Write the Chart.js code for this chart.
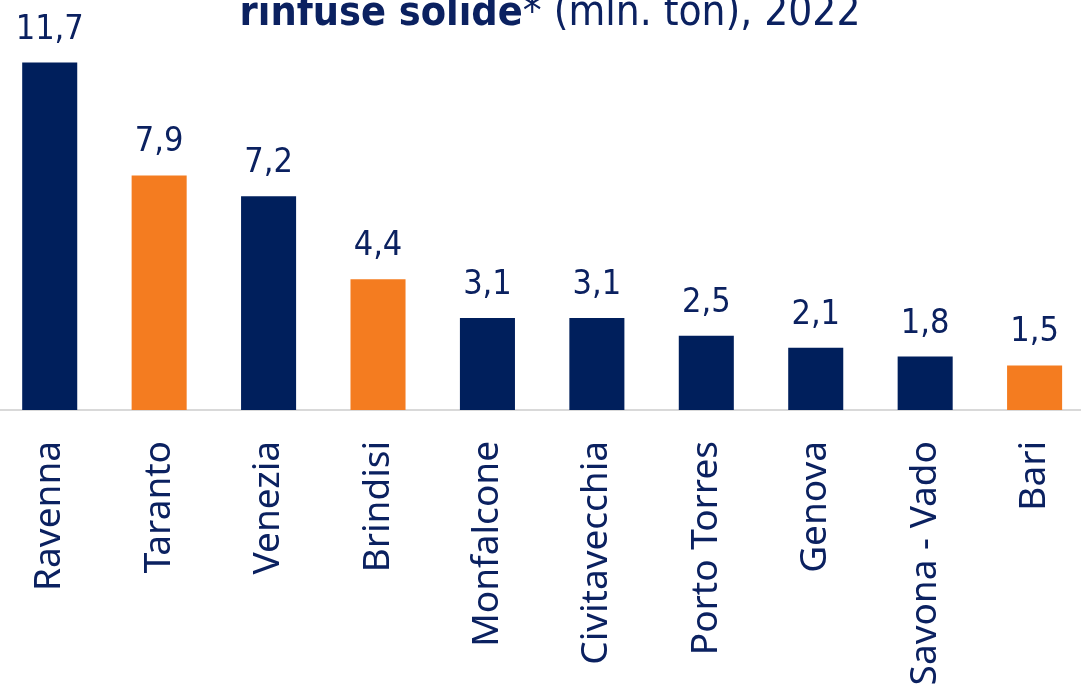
<!DOCTYPE html>
<html>
<head>
<meta charset="utf-8">
<script src="https://cdn.jsdelivr.net/npm/chart.js@4.4.1/dist/chart.umd.min.js"></script>
<style>
    html, body { margin: 0; padding: 0; background: #fff; overflow: hidden; }
    #wrap { position: relative; width: 1081px; height: 691px; overflow: hidden; }
    #portChart { position: absolute; left: -5px; top: 0; }
</style>
</head>
<body>
<div id="wrap"><canvas id="portChart" width="1115" height="691"></canvas></div>
<script>
// Porti - rinfuse solide (mln. ton), 2022
const ports = ['Ravenna', 'Taranto', 'Venezia', 'Brindisi', 'Monfalcone',
    'Civitavecchia', 'Porto Torres', 'Genova', 'Savona - Vado', 'Bari'];
const tonnes = [11.7, 7.9, 7.2, 4.4, 3.1, 3.1, 2.5, 2.1, 1.8, 1.5];
// porti del Mezzogiorno evidenziati in arancione
const highlighted = ['Taranto', 'Brindisi', 'Bari'];

const navy = '#001f5c';
const orange = '#f47c20';
const textColor = '#0b2160';
const labelFont = '"DejaVu Sans Condensed", "Open Sans", sans-serif';

// Etichette dei valori sopra le barre
const valueLabels = {
    id: 'valueLabels',
    afterDatasetsDraw(chart) {
        const ctx = chart.ctx;
        const meta = chart.getDatasetMeta(0);
        ctx.save();
        ctx.font = '34px ' + labelFont;
        ctx.fillStyle = textColor;
        ctx.textAlign = 'center';
        ctx.textBaseline = 'alphabetic';
        meta.data.forEach((bar, i) => {
            const txt = tonnes[i].toFixed(1).replace('.', ',');
            ctx.fillText(txt, bar.x, bar.y - 24);
        });
        ctx.restore();
    }
};

// Titolo con parte in grassetto (tagliato in alto come nell'originale)
const mixedTitle = {
    id: 'mixedTitle',
    afterDraw(chart) {
        const ctx = chart.ctx;
        const parts = [
            { text: 'rinfuse solide', font: 'bold 41px ' + labelFont },
            { text: '* (mln. ton), 2022', font: '42px ' + labelFont }
        ];
        ctx.save();
        let total = 0;
        parts.forEach(p => { ctx.font = p.font; p.w = ctx.measureText(p.text).width; total += p.w; });
        let x = 555 - total / 2;
        ctx.fillStyle = textColor;
        ctx.textBaseline = 'alphabetic';
        ctx.textAlign = 'left';
        parts.forEach(p => {
            ctx.font = p.font;
            ctx.fillText(p.text, x, 25);
            x += p.w;
        });
        ctx.restore();
    }
};

function drawChart() {
    new Chart(document.getElementById('portChart'), {
        type: 'bar',
        data: {
            labels: ports,
            datasets: [{
                data: tonnes,
                backgroundColor: ports.map(p => highlighted.includes(p) ? orange : navy),
                borderWidth: 0,
                barPercentage: 1,
                categoryPercentage: 0.503
            }]
        },
        options: {
            responsive: false,
            animation: false,
            devicePixelRatio: 1,
            layout: { padding: { top: 24, left: 0, right: 0, bottom: 0 } },
            plugins: {
                legend: { display: false },
                title: { display: false },
                tooltip: { enabled: false }
            },
            scales: {
                x: {
                    grid: { display: false, drawTicks: false },
                    border: { display: true, color: '#d9d9d9', width: 2 },
                    ticks: {
                        color: textColor,
                        font: { family: '"Noto Sans", "Liberation Sans", sans-serif', size: 37 },
                        minRotation: 90,
                        maxRotation: 90,
                        autoSkip: false,
                        padding: 31
                    },
                    afterFit(scale) { scale.height = 281; }
                },
                y: {
                    display: false,
                    min: 0,
                    max: 13
                }
            }
        },
        plugins: [valueLabels, mixedTitle]
    });
}

Promise.all([
    document.fonts.load('34px "DejaVu Sans Condensed"'),
    document.fonts.load('bold 41px "DejaVu Sans Condensed"'),
    document.fonts.load('37px "Noto Sans"')
]).then(drawChart, drawChart);
</script>
</body>
</html>
